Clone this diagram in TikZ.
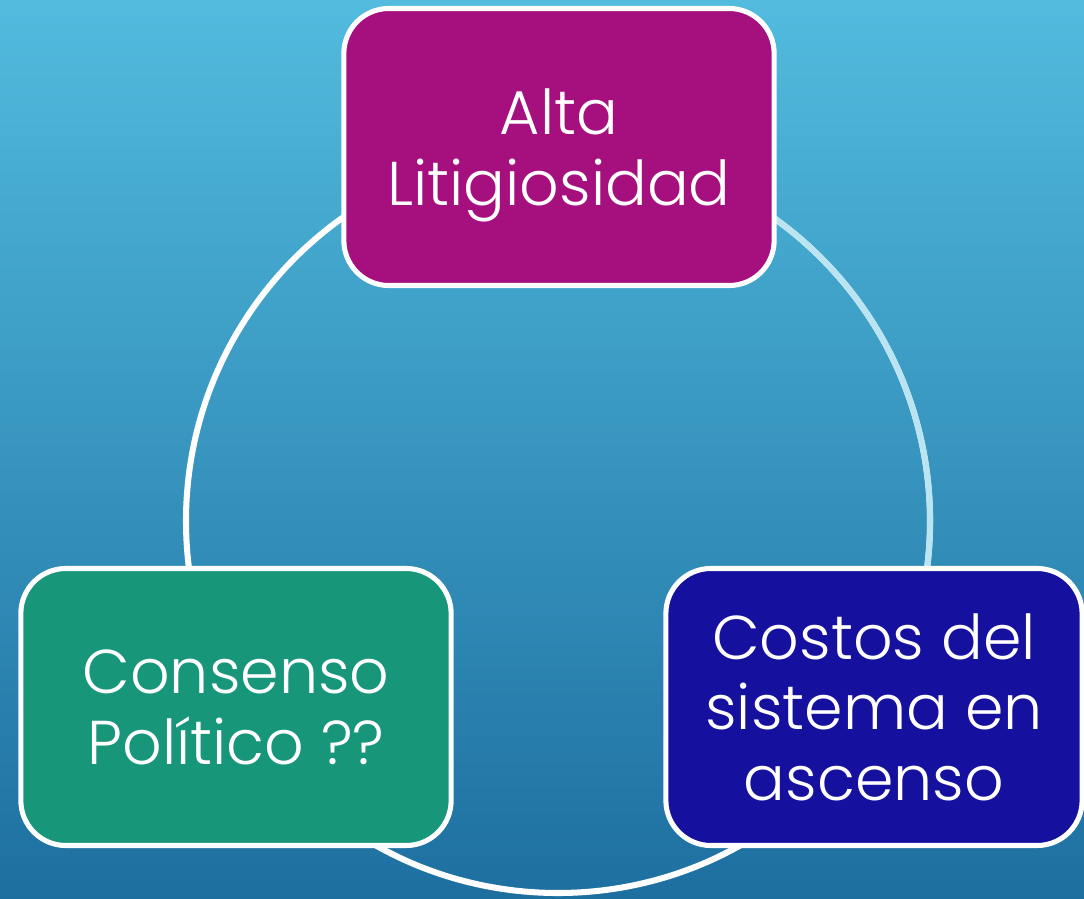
\documentclass[tikz,border=0pt]{standalone}
\usepackage{fontspec}
\setmainfont{Poppins}[UprightFont=* Light]
\usepackage{tikz}
\usetikzlibrary{positioning}

\definecolor{skytop}{RGB}{82,187,222}
\definecolor{skybottom}{RGB}{29,111,160}
\definecolor{litcolor}{RGB}{165,16,126}
\definecolor{polcolor}{RGB}{23,150,122}
\definecolor{costcolor}{RGB}{21,16,158}

\begin{document}
\begin{tikzpicture}[x=0.025cm,y=-0.025cm,
  main node/.style={rectangle,rounded corners=32pt,draw=white,line width=3.6pt,fill=#1,text=white,align=center,minimum width=306pt,minimum height=197pt,inner sep=0pt,text depth=0pt,font=\fontsize{44}{50}\selectfont},
  ring/.style={draw=white,line width=4.3pt}]

  \shade[top color=skytop,bottom color=skybottom] (0,0) rectangle (1084,899);
  \useasboundingbox (0,0) rectangle (1084,899);

  % ring behind the boxes
  \coordinate (O) at (558,521);
  \draw[ring] (O) circle (372);
  \draw[ring,draw=white!60!skytop] (O) ++(-70:372) arc[start angle=-70,end angle=20,radius=372];

  \node[main node=litcolor] (A) at (559,147) {Alta\\Litigiosidad};
  \node[main node=polcolor] (B) at (236,707) {Consenso\\Político ??};
  \node[main node=costcolor,minimum width=296pt] (C) at (874,707) {Costos del\\sistema en\\ascenso};

\end{tikzpicture}
\end{document}
